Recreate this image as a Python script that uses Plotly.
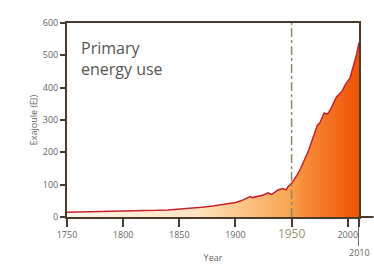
import plotly.graph_objects as go

years = [1750, 1760, 1770, 1780, 1790, 1800, 1810, 1820, 1830, 1840, 1850, 1860, 1870, 1880, 1890,
         1900, 1905, 1910, 1913, 1915, 1920, 1925, 1929, 1932, 1935, 1937, 1940, 1942, 1945, 1947,
         1950, 1953, 1955, 1958, 1960, 1963, 1965, 1968, 1970, 1973, 1975, 1977, 1979, 1980, 1982,
         1985, 1988, 1990, 1992, 1995, 1998, 2000, 2002, 2004, 2006, 2008, 2010]
energy = [15, 15.5, 16, 16.5, 17, 17.5, 18.5, 19.5, 20.5, 22, 24, 27, 30, 34, 39,
          45, 50, 57, 63, 60, 64, 68, 75, 70, 76, 82, 86, 88, 84, 95,
          104, 118, 130, 150, 165, 190, 205, 235, 255, 285, 290, 305, 322, 320, 318,
          335, 360, 372, 378, 390, 410, 420, 430, 455, 480, 505, 540]

x_ticks = [1750, 1800, 1850, 1900, 1950, 2000, 2010]
x_labels = ["1750", "1800", "1850", "1900",
            "<span style='font-size:12px;color:#9a9470'>1950</span>", "2000", ""]
last_label = "2010"
y_ticks = [0, 100, 200, 300, 400, 500, 600]

axis_col = "#4a3b2c"
txt_col = "#666666"

fig = go.Figure()
fig.add_trace(go.Scatter(
    x=years, y=energy, mode="lines",
    line=dict(color="#c8202e", width=1.5),
    fill="tozeroy",
    fillgradient=dict(type="horizontal",
                      colorscale=[[0, "#fff4ec"], [0.45, "#fde3bd"], [0.76, "#f7a650"],
                                  [0.8, "#f8913c"], [1, "#ef5206"]]),
    hoverinfo="skip", showlegend=False,
))

fig.add_shape(type="line", x0=1950, x1=1950, y0=0, y1=600, xref="x", yref="y",
              line=dict(color="#8d8a6a", width=1.5, dash="dashdot"))

# longer tick at 2010 and axis line running past the plot edge
fig.add_shape(type="line", x0=x_ticks[-1], x1=x_ticks[-1], y0=0, y1=-0.15, xref="x", yref="paper",
              line=dict(color=axis_col, width=1.5))
fig.add_shape(type="line", x0=1.0, x1=1.05, y0=0, y1=0, xref="paper", yref="paper",
              line=dict(color=axis_col, width=2))

fig.add_annotation(text="Primary<br>energy use", x=0.04, y=0.94, xref="paper", yref="paper",
                   xanchor="left", yanchor="top", align="left", showarrow=False,
                   font=dict(family="Open Sans", size=16, color="#555555"))

fig.add_annotation(text=last_label, x=x_ticks[-1], y=0, xref="x", yref="paper",
                   xanchor="center", yanchor="middle", yshift=-35, xshift=0, showarrow=False,
                   font=dict(family="Open Sans", size=9, color=txt_col))

fig.update_layout(
    width=374, height=266,
    margin=dict(l=67, r=15, t=23, b=49),
    paper_bgcolor="white", plot_bgcolor="white",
    font=dict(family="Open Sans", size=9, color=txt_col),
    xaxis=dict(range=[1750, 2010], tickvals=x_ticks, ticktext=x_labels, tickangle=0,
               automargin=False,
               showgrid=False, zeroline=False, showline=True, linecolor=axis_col, linewidth=2,
               mirror=True, ticks="outside", ticklen=8, tickwidth=1.5, tickcolor=axis_col,
               title=dict(text="Year", font=dict(size=9, color=txt_col), standoff=14)),
    yaxis=dict(range=[0, 600], tickvals=y_ticks, automargin=False,
               showgrid=False, zeroline=False, showline=True, linecolor=axis_col, linewidth=2,
               mirror=True, ticks="outside", ticklen=5, tickwidth=1.5, tickcolor=axis_col,
               title=dict(text="Exajoule (EJ)", font=dict(size=9, color=txt_col), standoff=4)),
)

fig.write_html("out.html", config={"displayModeBar": False},
               post_script="document.body.style.margin='0';document.body.style.overflow='hidden';")
